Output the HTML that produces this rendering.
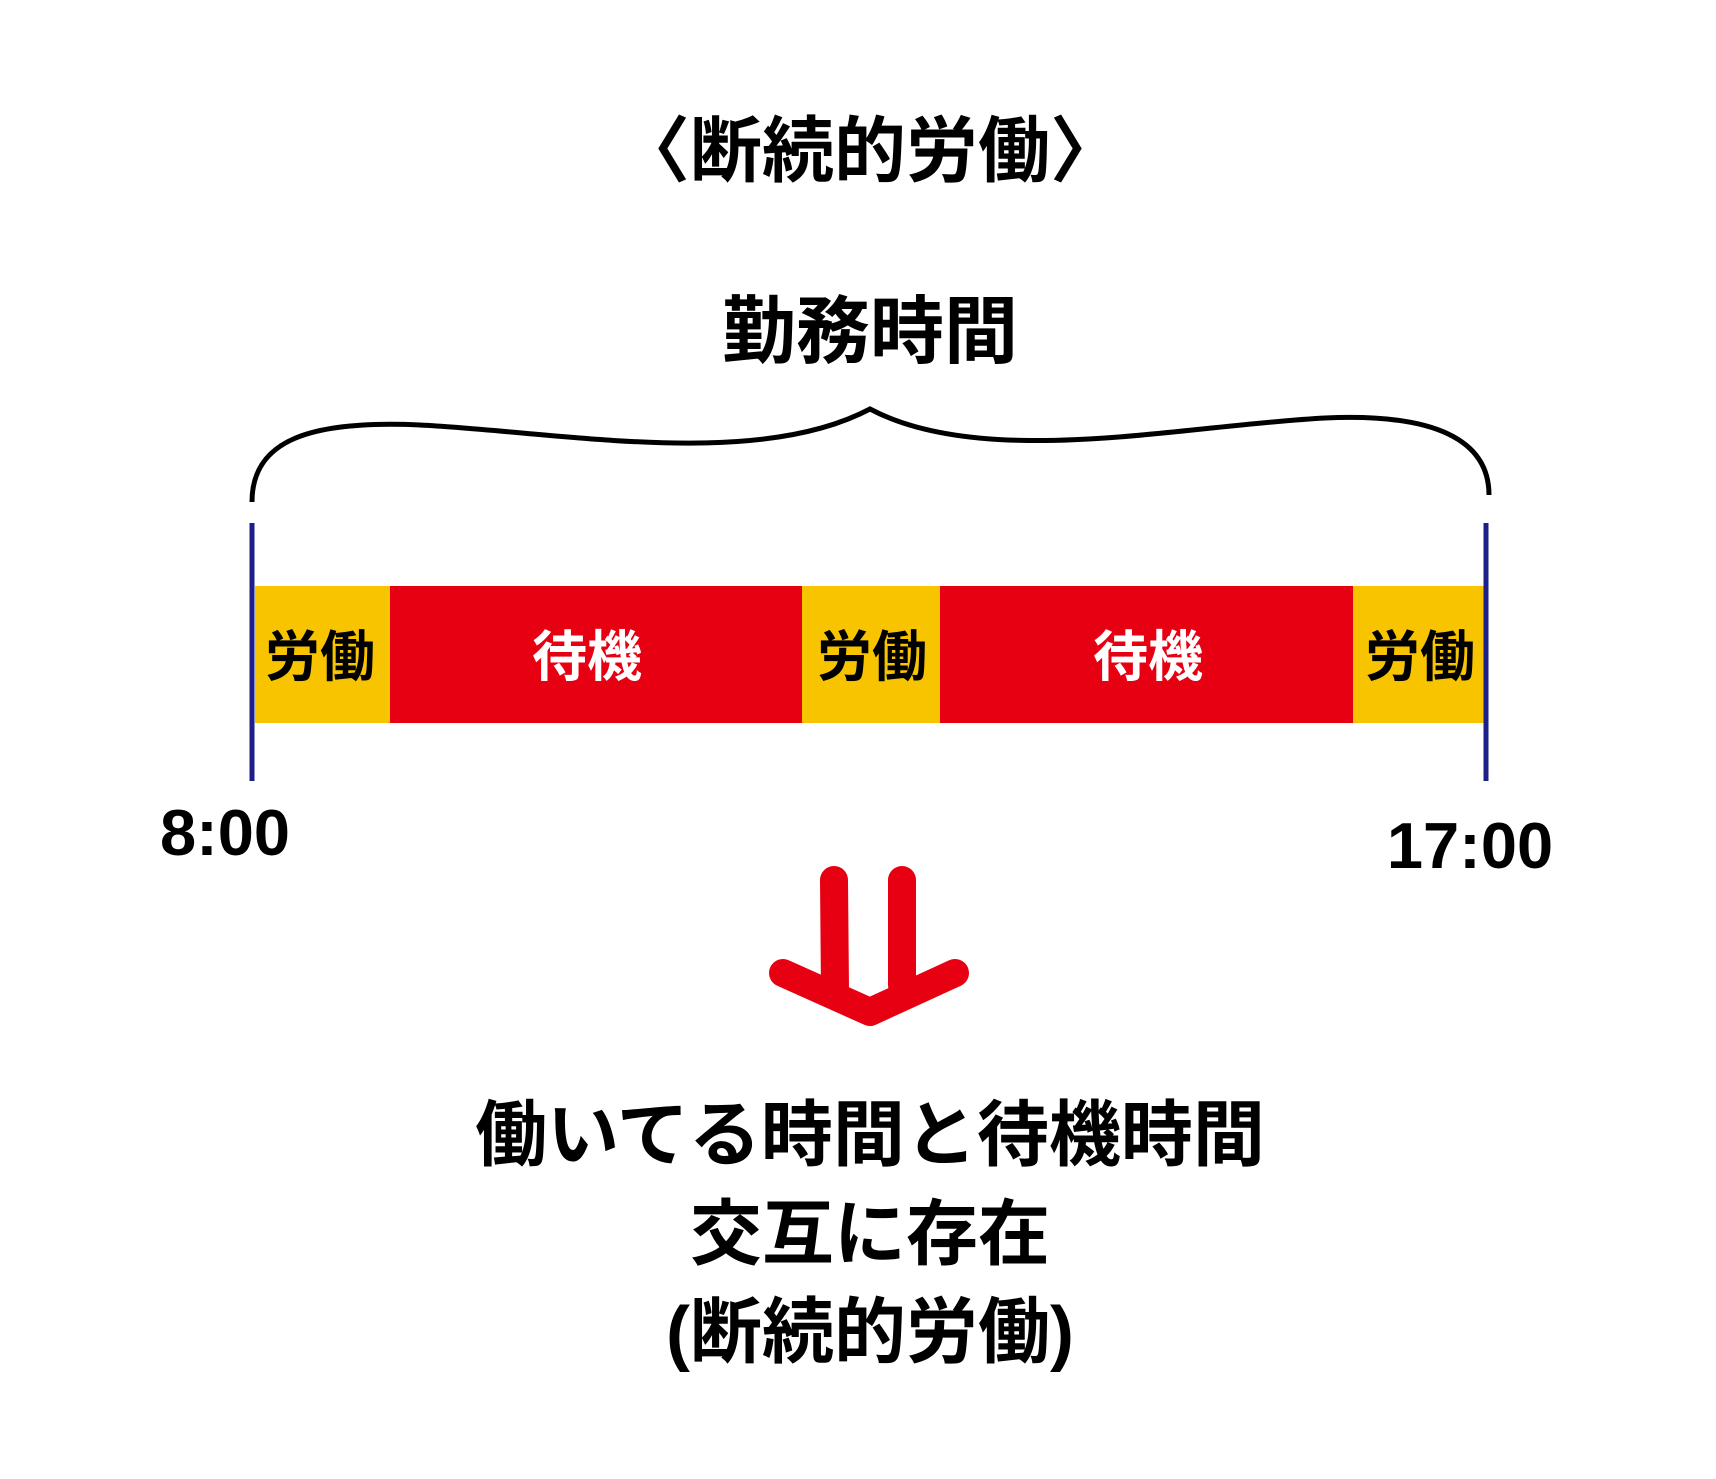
<!DOCTYPE html>
<html><head><meta charset="utf-8"><style>
body{margin:0;width:1716px;height:1479px;background:#fff;position:relative;overflow:hidden;font-family:"Liberation Sans","Noto Sans CJK JP",sans-serif;font-weight:bold}
.t{position:absolute;left:12px;width:1716px;text-align:center;color:#000;line-height:1}
.lb{position:absolute;top:630px;font-size:55px;line-height:1;width:160px;text-align:center}
</style></head><body>
<div class="t" style="top:116px;font-size:72px">〈断続的労働〉</div>
<div class="t" style="top:295px;font-size:74px">勤務時間</div>
<svg style="position:absolute;left:0;top:0" width="1716" height="1479">
<path d="M252,502 C252,440 310,420 420,425 C560,432 755,470 870,409 C985,470 1185,425 1325,418 C1435,413 1489,440 1489,495" fill="none" stroke="#000" stroke-width="5"/>
<rect x="255" y="586" width="135" height="137" fill="#f8c400"/>
<rect x="390" y="586" width="412" height="137" fill="#e60012"/>
<rect x="802" y="586" width="138" height="137" fill="#f8c400"/>
<rect x="940" y="586" width="413" height="137" fill="#e60012"/>
<rect x="1353" y="586" width="131" height="137" fill="#f8c400"/>
<line x1="252" y1="523" x2="252" y2="781" stroke="#1d2088" stroke-width="5"/>
<line x1="1486" y1="523" x2="1486" y2="781" stroke="#1d2088" stroke-width="5"/>
<g stroke="#e60012" stroke-width="28" stroke-linecap="round" stroke-linejoin="round" fill="none">
<line x1="834" y1="880" x2="835" y2="990"/>
<line x1="902" y1="880" x2="902" y2="985"/>
<polyline points="783,973 870,1012 955,973"/>
</g>
</svg>
<div class="lb" style="left:240px">労働</div>
<div class="lb" style="left:507px;color:#fff">待機</div>
<div class="lb" style="left:792px">労働</div>
<div class="lb" style="left:1068px;color:#fff">待機</div>
<div class="lb" style="left:1340px">労働</div>
<div style="position:absolute;left:150px;top:800px;font-size:65px;line-height:1;width:150px;text-align:center">8:00</div>
<div style="position:absolute;left:1380px;top:813px;font-size:65px;line-height:1;width:180px;text-align:center">17:00</div>
<div class="t" style="top:1100px;font-size:72px">働いてる時間と待機時間</div>
<div class="t" style="top:1199px;font-size:72px">交互に存在</div>
<div class="t" style="top:1297px;font-size:72px">(断続的労働)</div>
</body></html>
